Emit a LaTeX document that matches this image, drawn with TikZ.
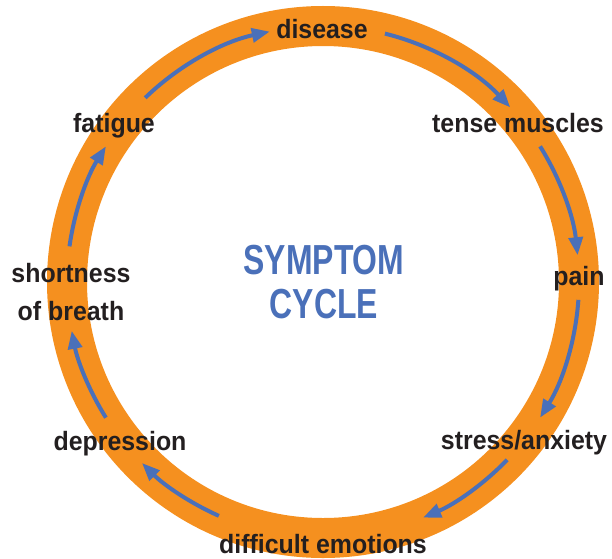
\documentclass[tikz,border=0pt]{standalone}
\usepackage{fontspec}
\setmainfont{Liberation Sans}
\newfontfamily\symptomfont{Liberation Sans}[FakeStretch=0.94]
\newfontfamily\headingfont{Liberation Sans}[FakeStretch=0.76]
\usetikzlibrary{arrows.meta}
\definecolor{ringOrange}{HTML}{F5901F}
\definecolor{cycleBlue}{HTML}{4A70B9}
\definecolor{symptomDark}{HTML}{231F20}

\begin{document}
\begin{tikzpicture}[x=1pt, y=1pt,
    ring/.style={draw=ringOrange, line width=40pt},
    flow/.style={draw=cycleBlue, line width=4pt,
                 -{Triangle[length=18pt, width=14pt]}},
    symptom/.style={font=\symptomfont\bfseries\fontsize{26.5}{38}\selectfont,
                    text=symptomDark, inner sep=0pt, anchor=base, align=center},
    heading/.style={font=\headingfont\bfseries\fontsize{42}{44}\selectfont,
                    text=cycleBlue, inner sep=0pt, align=center},
  ]
    \useasboundingbox (0,0) rectangle (612,558);
    \coordinate (c) at (323,276);

    % orange ring
    \draw[ring] (c) circle[radius=256];

    % blue arrows along the ring, clockwise
    \foreach \from/\to in {134/102, 76/43, 32/6, -4/-32,
                           -44/-67, -114/-135, -148/-169, 172/148}
      \draw[flow] (c) ++(\from:256) arc[start angle=\from, end angle=\to, radius=256];

    % the symptoms
    \node[symptom] (disease) at (322,519) {disease};
    \node[symptom] (tense) at (518,425) {tense muscles};
    \node[symptom] (pain) at (579,273) {pain};
    \node[symptom] (stress) at (524,109) {stress/anxiety};
    \node[symptom] (emotions) at (323,5) {difficult emotions};
    \node[symptom] (depression) at (120,108) {depression};
    \node[symptom, anchor=center] (breath) at (71,265.5) {shortness\\of breath};
    \node[symptom] (fatigue) at (114,425) {fatigue};

    \node[heading] (title) at (324,276) {SYMPTOM\\CYCLE};
  \end{tikzpicture}
\end{document}
